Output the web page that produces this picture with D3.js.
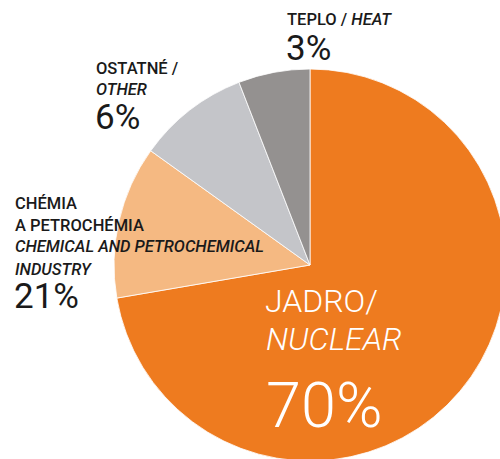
<!DOCTYPE html>
<html>
<head>
<meta charset="utf-8">
<script src="https://cdn.jsdelivr.net/npm/d3@7"></script>
<style>
  body { margin: 0; background: #fff; }
  text { font-family: Roboto, "Noto Sans", sans-serif; }
</style>
</head>
<body>
<script>
// Set up data (slice sizes as drawn, printed labels as written)
const categories = ['nuclear', 'chemistry', 'other', 'heat'];
const sliceShares = [72.3, 12.6, 9.2, 5.9];
const percentLabels = ['70%', '21%', '6%', '3%'];
const sliceColors = ['#ee7b1f', '#f5b982', '#c4c5c9', '#949190'];

const width = 500;
const height = 459;
const radius = 196;
const cx = 310, cy = 265;

const color = d3.scaleOrdinal().domain(categories).range(sliceColors);

const svg = d3.select('body')
    .append('svg')
    .attr('width', width)
    .attr('height', height);

const g = svg.append('g')
    .attr('transform', `translate(${cx},${cy})`);

const pie = d3.pie()
    .sort(null)
    .value(d => d.value);

const arc = d3.arc()
    .outerRadius(radius)
    .innerRadius(0);

const slices = pie(categories.map((c, i) => ({ key: c, value: sliceShares[i] })));

g.selectAll('path')
    .data(slices)
    .enter()
    .append('path')
    .attr('d', arc)
    .attr('fill', d => color(d.data.key))
    .attr('stroke', '#fff')
    .attr('stroke-width', 0.8);

// Outside labels: upright part + italic part per line
const labelBlocks = [
    { key: 'heat', x: 287, lines: [['TEPLO / ', 'HEAT']], ys: [25], pctY: 60 },
    { key: 'other', x: 96, lines: [['OSTATNÉ /', ''], ['', 'OTHER']], ys: [74, 95], pctY: 129 },
    { key: 'chemistry', x: 15, lines: [['CHÉMIA', ''], ['A PETROCHÉMIA', ''], ['', 'CHEMICAL AND PETROCHEMICAL'], ['', 'INDUSTRY']],
      ys: [209, 231, 252, 275], pctY: 308 }
];

labelBlocks.forEach(b => {
    b.lines.forEach((ln, i) => {
        const t = svg.append('text')
            .attr('x', b.x)
            .attr('y', b.ys[i])
            .style('font-size', '16.5px')
            .style('font-weight', 500)
            .style('fill', '#1a1a1a');
        if (ln[0]) t.append('tspan').text(ln[0]);
        if (ln[1]) t.append('tspan').style('font-style', 'italic').text(ln[1]);
    });
    svg.append('text')
        .attr('x', b.x - 1)
        .attr('y', b.pctY)
        .style('font-size', '35px')
        .style('fill', '#1a1a1a')
        .text(percentLabels[categories.indexOf(b.key)]);
});

// Nuclear label inside the slice
svg.append('text')
    .attr('x', 265).attr('y', 312)
    .style('font-size', '32px').style('font-weight', 300).style('fill', '#fff')
    .text('JADRO/');
svg.append('text')
    .attr('x', 266).attr('y', 350)
    .style('font-size', '32px').style('font-weight', 300).style('font-style', 'italic').style('fill', '#fff')
    .text('NUCLEAR');
svg.append('text')
    .attr('x', 266).attr('y', 427)
    .style('font-size', '63px').style('font-weight', 300).style('fill', '#fff')
    .text(percentLabels[0]);
</script>
</body>
</html>
